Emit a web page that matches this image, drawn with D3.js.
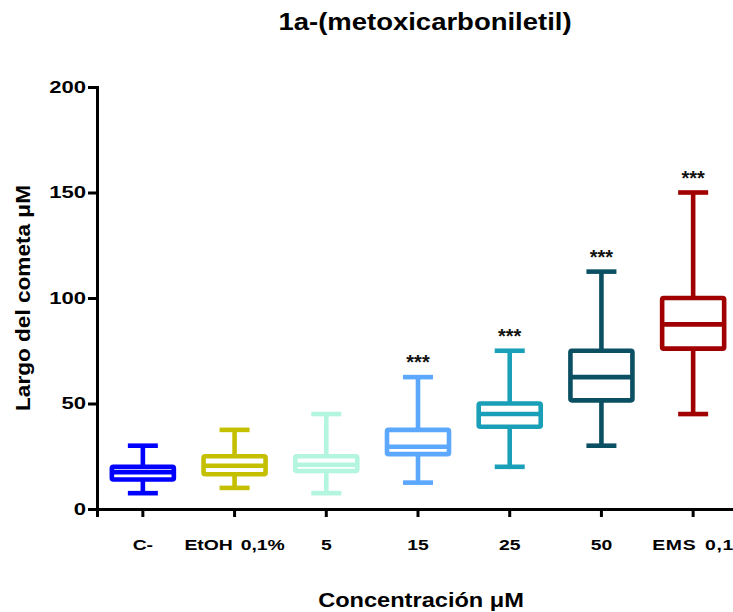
<!DOCTYPE html>
<html>
<head>
<meta charset="utf-8">
<script src="https://cdn.jsdelivr.net/npm/d3@7"></script>
<style>
	body { margin: 0; background: #fff; }
	text { font-family: "Liberation Sans", Arial, sans-serif; font-weight: bold; }
</style>
</head>
<body>
<script>
'use strict';

// Groups along the x axis and their box colours.
const categories = ["C-", "EtOH 0,1%", "5", "15", "25", "50", "EMS 0,1"];
const colors = ["#0000ff", "#c4c000", "#b4f5e0", "#5ca8ff", "#1a9fb8", "#0b4f63", "#a00000"];

// Box summaries: min, q1, median, q3, max.
const mins    = [7.5, 10, 7.5, 12.5, 20, 30, 45];
const q1s     = [14, 16.5, 18, 26, 39, 51.5, 76];
const medians = [17.5, 20.5, 21, 29.5, 45, 62.5, 87.5];
const q3s     = [20, 25, 25, 37.5, 50, 75, 100];
const maxs    = [30, 37.5, 45, 62.5, 75, 112.5, 150];

// Significance marks above each box.
const stars = ["", "", "", "***", "***", "***", "***"];

const yTicks = [0, 50, 100, 150, 200];

const width = 733, height = 612;
const margin = { left: 97, right: -6, top: 87, bottom: 103 };

// The reference text is drawn a bit wider than the font, so stretch it sideways.
const stretch = 1.2;

let svg = d3.select("body").append("svg")
	.attr("width", width)
	.attr("height", height);

let x = d3.scaleBand()
	.domain(categories)
	.range([margin.left, width - margin.right])
	.paddingInner(0.31)
	.paddingOuter(0.155);

let y = d3.scaleLinear()
	.domain([0, 200])
	.range([height - margin.bottom, margin.top]);

// Title
svg.append("text")
	.attr("transform", "translate(425,30) scale(1.17,1)")
	.attr("text-anchor", "middle")
	.attr("font-size", 23.5)
	.text("1a-(metoxicarboniletil)");

// Build one row per box from the named arrays.
let rows = categories.map((c, i) => ({
	cat: c, color: colors[i], min: mins[i], q1: q1s[i],
	med: medians[i], q3: q3s[i], max: maxs[i], star: stars[i]
}));

let boxW = 62, capW = 30, sw = 4.6;

let g = svg.append("g").selectAll("g")
	.data(rows)
	.enter()
	.append("g")
	.attr("transform", d => "translate(" + (x(d.cat) + x.bandwidth() / 2) + ",0)")
	.attr("stroke", d => d.color)
	.attr("stroke-width", sw)
	.attr("fill", "none");

// Whiskers
g.append("line").attr("x1", 0).attr("x2", 0).attr("y1", d => y(d.max)).attr("y2", d => y(d.q3));
g.append("line").attr("x1", 0).attr("x2", 0).attr("y1", d => y(d.q1)).attr("y2", d => y(d.min));
g.append("line").attr("x1", -capW / 2).attr("x2", capW / 2).attr("y1", d => y(d.max)).attr("y2", d => y(d.max));
g.append("line").attr("x1", -capW / 2).attr("x2", capW / 2).attr("y1", d => y(d.min)).attr("y2", d => y(d.min));

// Box
g.append("rect")
	.attr("x", -boxW / 2)
	.attr("width", boxW)
	.attr("y", d => y(d.q3))
	.attr("height", d => y(d.q1) - y(d.q3))
	.attr("fill", "#fff")
	.attr("rx", 1.5)
	.attr("stroke-linejoin", "round");

// Median
g.append("line").attr("x1", -boxW / 2).attr("x2", boxW / 2).attr("y1", d => y(d.med)).attr("y2", d => y(d.med));

// Stars
g.append("text")
	.attr("stroke", "none")
	.attr("fill", "#111")
	.attr("font-size", 20)
	.attr("font-weight", "normal")
	.attr("text-anchor", "middle")
	.attr("y", d => y(d.max) - 8)
	.text(d => d.star);

// Axes
let yAxis = svg.append("g")
	.attr("transform", "translate(" + margin.left + ",0)")
	.call(d3.axisLeft(y).tickValues(yTicks).tickSize(9).tickPadding(2));

let xAxis = svg.append("g")
	.attr("transform", "translate(0," + (height - margin.bottom) + ")")
	.call(d3.axisBottom(x).tickSize(8).tickPadding(22));

[yAxis, xAxis].forEach(a => {
	a.select(".domain").attr("stroke", "#000").attr("stroke-width", 3);
	a.selectAll(".tick line").attr("stroke", "#000").attr("stroke-width", 3);
	a.selectAll("text").attr("fill", "#000").style("font-family", "'Liberation Sans', Arial, sans-serif").style("font-weight", "bold");
});

yAxis.selectAll("text")
	.attr("font-size", 17)
	.attr("x", 0)
	.attr("transform", "translate(-11,0) scale(1.3,1)");

xAxis.selectAll("text")
	.attr("font-size", 15.5)
	.attr("transform", "scale(1.25,1)")
	.style("word-spacing", "2px");
xAxis.selectAll("text").filter(d => d == "EMS 0,1").style("letter-spacing", "0.6px");

// Axis titles
svg.append("text")
	.attr("transform", "translate(30,298) rotate(-90) scale(1.13,1)")
	.attr("text-anchor", "middle")
	.attr("font-size", 20)
	.text("Largo del cometa μM");

svg.append("text")
	.attr("transform", "translate(421,607) scale(1.18,1)")
	.attr("text-anchor", "middle")
	.attr("font-size", 20)
	.text("Concentración μM");
</script>
</body>
</html>
